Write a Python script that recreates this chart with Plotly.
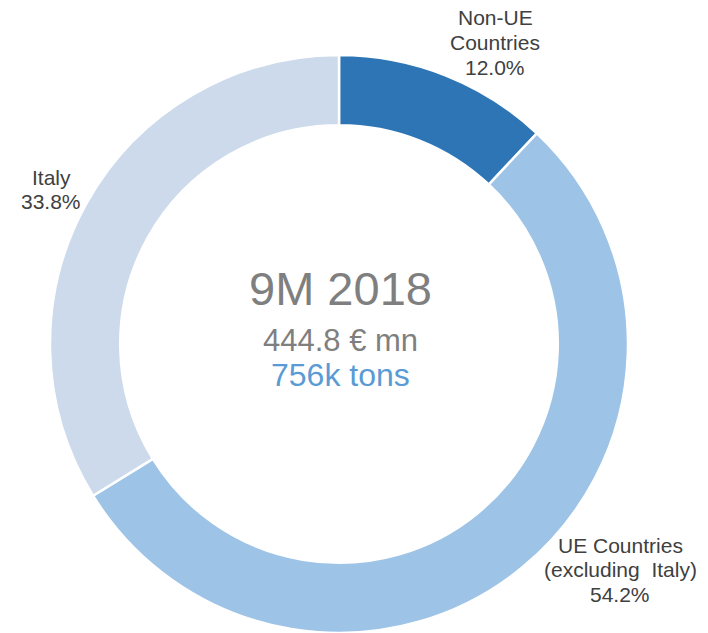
import plotly.graph_objects as go

W, H = 708, 633
OFF = 8  # page body margin offset compensation

categories = ["Non-UE Countries", "UE Countries (excluding Italy)", "Italy"]
label_lines = [["Non-UE", "Countries"], ["UE Countries", "(excluding  Italy)"], ["Italy"]]
shares = [12.0, 54.2, 33.8]
colors = ["#2E75B6", "#9DC3E6", "#CCDAEC"]

cx, cy, R = 339 - OFF, 344 - OFF, 289

fig = go.Figure(go.Pie(
    labels=categories,
    values=shares,
    sort=False,
    direction="clockwise",
    rotation=0,
    hole=0.757,
    textinfo="none",
    hoverinfo="label+percent",
    marker=dict(colors=colors, line=dict(color="white", width=2.5)),
    domain=dict(x=[(cx - R) / W, (cx + R) / W], y=[(H - cy - R) / H, (H - cy + R) / H]),
    showlegend=False,
))

def px(x, y):
    return (x - OFF) / W, 1 - (y - OFF) / H

# (center x, first line y) for each label; line step in px
label_pos = [(495, 18), (620, 545), (51, 177)]
STEP = 24.5
anns = []
for lines, v, (x, y0) in zip(label_lines, shares, label_pos):
    all_lines = lines + [f"{v:.1f}%"]
    for i, t in enumerate(all_lines):
        ax, ay = px(x, y0 + i * STEP)
        anns.append(dict(x=ax, y=ay, xref="paper", yref="paper", text=t,
                         showarrow=False, xanchor="center", yanchor="middle",
                         font=dict(family="Liberation Sans, Arial", size=21, color="#404040")))

center_lines = [("9M 2018", 288, 47, "#7F7F7F"), ("444.8 € mn", 340, 31, "#7F7F7F"),
                ("756k tons", 375, 32, "#5B9BD5")]
for t, y, s, c in center_lines:
    ax, ay = px(340, y)
    anns.append(dict(x=ax, y=ay, xref="paper", yref="paper", text=t, showarrow=False,
                     xanchor="center", yanchor="middle",
                     font=dict(family="Liberation Sans, Arial", size=s, color=c)))

fig.update_layout(width=W, height=H, margin=dict(l=0, r=0, t=0, b=0),
                  paper_bgcolor="white", plot_bgcolor="white", annotations=anns)
fig.write_html("out.html")
